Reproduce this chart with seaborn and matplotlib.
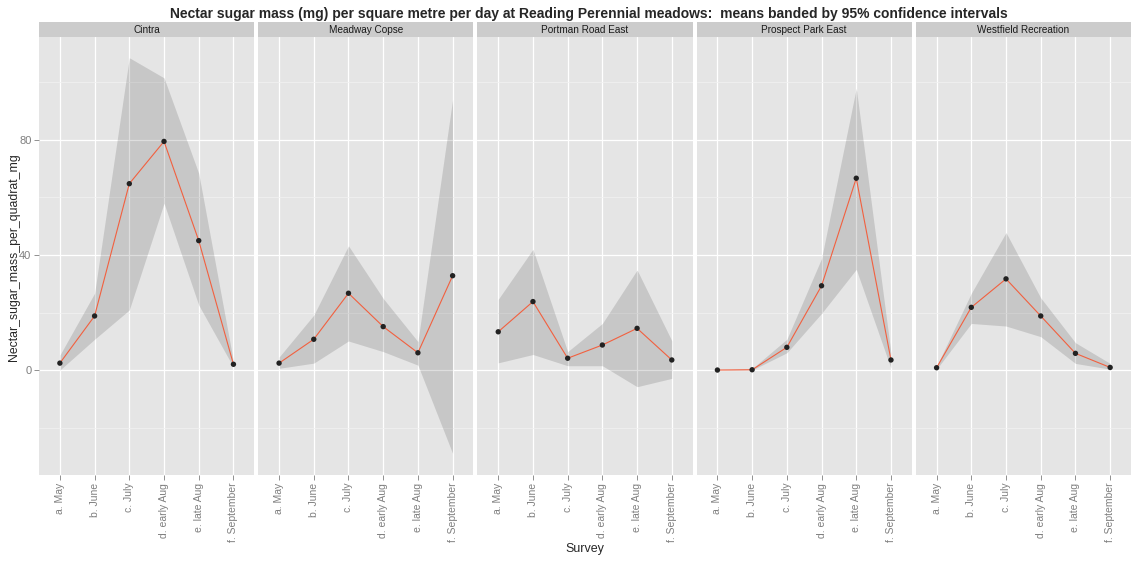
import pandas as pd
import numpy as np
import seaborn as sns
import matplotlib.pyplot as plt
from matplotlib.patches import Rectangle


# data
survey = ["a. May", "b. June", "c. July", "d. early Aug", "e. late Aug", "f. September"]
sites = ["Cintra", "Meadway Copse", "Portman Road East", "Prospect Park East", "Westfield Recreation"]

cintra_mean = [2.4, 18.8, 64.8, 79.5, 45.0, 2.0]
cintra_lo = [0.0, 10.7, 20.9, 58.0, 22.6, 1.0]
cintra_hi = [5.2, 26.7, 108.6, 101.6, 68.4, 3.0]

meadway_mean = [2.4, 10.7, 26.7, 15.1, 6.0, 32.8]
meadway_lo = [0.6, 2.4, 10.1, 6.4, 1.7, -29.0]
meadway_hi = [4.5, 19.1, 43.2, 24.9, 9.9, 94.1]

portman_mean = [13.3, 23.8, 4.1, 8.7, 14.5, 3.5]
portman_lo = [2.5, 5.4, 1.5, 1.5, -5.8, -2.9]
portman_hi = [24.6, 42.0, 6.4, 16.2, 34.8, 10.2]

prospect_mean = [0.0, 0.1, 7.9, 29.3, 66.7, 3.5]
prospect_lo = [0.0, 0.0, 6.0, 19.7, 35.0, 0.6]
prospect_hi = [0.0, 0.5, 10.7, 38.8, 98.0, 6.0]

westfield_mean = [0.8, 21.8, 31.7, 18.8, 5.8, 0.9]
westfield_lo = [0.3, 16.2, 15.3, 11.6, 2.3, 0.3]
westfield_hi = [1.3, 26.7, 47.8, 25.1, 9.5, 2.3]

means = [cintra_mean, meadway_mean, portman_mean, prospect_mean, westfield_mean]
lows = [cintra_lo, meadway_lo, portman_lo, prospect_lo, westfield_lo]
highs = [cintra_hi, meadway_hi, portman_hi, prospect_hi, westfield_hi]

rows = []
for s, m, lo, hi in zip(sites, means, lows, highs):
    for i in range(len(survey)):
        rows.append({"site": s, "Survey": survey[i], "mean": m[i], "lo": lo[i], "hi": hi[i]})
df = pd.DataFrame(rows)
df["Survey"] = pd.Categorical(df["Survey"], categories=survey, ordered=True)
df["pos"] = df["Survey"].cat.codes

sns.set_style("darkgrid", {"axes.facecolor": "#E5E5E5", "grid.color": "white"})
plt.rcParams["font.family"] = ["Liberation Sans", "DejaVu Sans"]

line_col = "#F2603F"


def ribbon(data, **kws):
    ax = plt.gca()
    ax.fill_between(data["pos"], data["lo"], data["hi"], color="black", alpha=0.13, lw=0, zorder=2)


g = sns.FacetGrid(df, col="site", col_order=sites, sharey=True, sharex=True, height=5, aspect=0.45)
g.map_dataframe(ribbon)
g.map_dataframe(sns.lineplot, x="pos", y="mean", color=line_col, lw=0.8, zorder=3)
g.map_dataframe(sns.scatterplot, x="pos", y="mean", color="#222222", s=15, edgecolor="none", zorder=4)

g.figure.set_size_inches(11.32, 5.61)
g.figure.subplots_adjust(left=0.0345, right=0.9991, top=0.934, bottom=0.1533, wspace=0.0184)
g.set_titles("")
g.set_axis_labels("", "")

for k, (ax, s) in enumerate(zip(g.axes.flat, sites)):
    ax.set_xlim(-0.6, 5.6)
    ax.set_ylim(-36.5, 115.8)
    ax.set_xticks(range(len(survey)))
    ax.set_xticklabels(survey, rotation=90, va="top", ha="center", fontsize=7.5, color="#7F7F7F")
    ax.set_yticks([0, 40, 80])
    ax.set_yticks([-20, 20, 60, 100], minor=True)
    ax.grid(True, which="major", color="white", lw=0.9)
    ax.grid(True, which="minor", axis="y", color="#F2F2F2", lw=0.5)
    ax.tick_params(axis="x", length=3.5, width=0.6, color="#7F7F7F", pad=2, bottom=True)
    ax.tick_params(axis="y", length=3.5, width=0.6, color="#7F7F7F", labelsize=8, labelcolor="#7F7F7F",
                   pad=2, left=(k == 0))
    ax.tick_params(which="minor", length=0)
    for sp in ax.spines.values():
        sp.set_visible(False)
    strip_h = 15 / 438
    ax.add_patch(Rectangle((0, 1), 1, strip_h, transform=ax.transAxes, facecolor="#CCCCCC",
                           edgecolor="none", clip_on=False))
    ax.text(0.5, 1 + strip_h / 2, s, transform=ax.transAxes, ha="center", va="center",
            fontsize=7.2, color="#1A1A1A")

g.figure.suptitle("Nectar sugar mass (mg) per square metre per day at Reading Perennial meadows:  means banded by 95% confidence intervals",
                  x=589 / 1132, y=1 - 14 / 561, va="center", fontsize=10, fontweight="bold")
g.figure.text(585 / 1132, 1 - 549 / 561, "Survey", ha="center", va="center", fontsize=9)
g.figure.text(14 / 1132, 1 - 257 / 561, "Nectar_sugar_mass_per_quadrat_mg", rotation=90,
              ha="center", va="center", fontsize=8.8)

g.figure.savefig("out.png", dpi=100)
